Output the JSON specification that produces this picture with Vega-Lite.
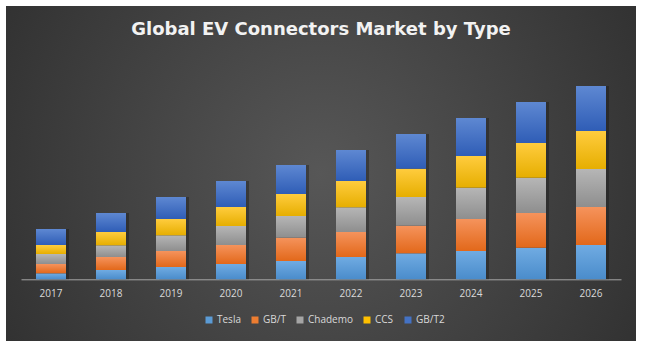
{
  "$schema": "https://vega.github.io/schema/vega-lite/v6.json",
  "width": 630,
  "height": 335,
  "autosize": {"type": "none"},
  "padding": {"left": 6, "top": 6, "right": 11, "bottom": 8},
  "background": "white",
  "title": {
    "text": "Global EV Connectors Market by Type",
    "font": "DejaVu Sans",
    "fontSize": 18,
    "fontWeight": "bold",
    "color": "#f2f2f2",
    "anchor": "middle",
    "baseline": "alphabetic",
    "offset": -47
  },
  "data": {
    "values": [
      {"year": "2017", "type": "Tesla", "value": 6},
      {"year": "2017", "type": "GB/T", "value": 9.3},
      {"year": "2017", "type": "Chademo", "value": 10},
      {"year": "2017", "type": "CCS", "value": 9},
      {"year": "2017", "type": "GB/T2", "value": 16},
      {"year": "2018", "type": "Tesla", "value": 9.3},
      {"year": "2018", "type": "GB/T", "value": 13},
      {"year": "2018", "type": "Chademo", "value": 11.7},
      {"year": "2018", "type": "CCS", "value": 13.3},
      {"year": "2018", "type": "GB/T2", "value": 19},
      {"year": "2019", "type": "Tesla", "value": 12.3},
      {"year": "2019", "type": "GB/T", "value": 16},
      {"year": "2019", "type": "Chademo", "value": 15.7},
      {"year": "2019", "type": "CCS", "value": 16.3},
      {"year": "2019", "type": "GB/T2", "value": 22},
      {"year": "2020", "type": "Tesla", "value": 15.3},
      {"year": "2020", "type": "GB/T", "value": 19},
      {"year": "2020", "type": "Chademo", "value": 19},
      {"year": "2020", "type": "CCS", "value": 19},
      {"year": "2020", "type": "GB/T2", "value": 26},
      {"year": "2021", "type": "Tesla", "value": 18.3},
      {"year": "2021", "type": "GB/T", "value": 23.3},
      {"year": "2021", "type": "Chademo", "value": 21.7},
      {"year": "2021", "type": "CCS", "value": 22},
      {"year": "2021", "type": "GB/T2", "value": 29},
      {"year": "2022", "type": "Tesla", "value": 22.3},
      {"year": "2022", "type": "GB/T", "value": 25},
      {"year": "2022", "type": "Chademo", "value": 24.7},
      {"year": "2022", "type": "CCS", "value": 26.3},
      {"year": "2022", "type": "GB/T2", "value": 31},
      {"year": "2023", "type": "Tesla", "value": 26},
      {"year": "2023", "type": "GB/T", "value": 27.6},
      {"year": "2023", "type": "Chademo", "value": 28.7},
      {"year": "2023", "type": "CCS", "value": 28.3},
      {"year": "2023", "type": "GB/T2", "value": 34.7},
      {"year": "2024", "type": "Tesla", "value": 28.3},
      {"year": "2024", "type": "GB/T", "value": 32},
      {"year": "2024", "type": "Chademo", "value": 31.3},
      {"year": "2024", "type": "CCS", "value": 31.7},
      {"year": "2024", "type": "GB/T2", "value": 38},
      {"year": "2025", "type": "Tesla", "value": 31.6},
      {"year": "2025", "type": "GB/T", "value": 34.7},
      {"year": "2025", "type": "Chademo", "value": 35.3},
      {"year": "2025", "type": "CCS", "value": 34.7},
      {"year": "2025", "type": "GB/T2", "value": 41},
      {"year": "2026", "type": "Tesla", "value": 34.3},
      {"year": "2026", "type": "GB/T", "value": 38},
      {"year": "2026", "type": "Chademo", "value": 38},
      {"year": "2026", "type": "CCS", "value": 38},
      {"year": "2026", "type": "GB/T2", "value": 45}
    ]
  },
  "transform": [
    {"stack": "value", "groupby": ["year"], "as": ["v0", "v1"]}
  ],
  "encoding": {
    "x": {
      "field": "year",
      "type": "ordinal",
      "scale": {"range": [15, 615], "paddingInner": 0.5, "paddingOuter": 0.25},
      "axis": {
        "orient": "bottom",
        "offset": -61.7,
        "title": null,
        "ticks": false,
        "grid": false,
        "domainColor": "#a6a6a6",
        "domainWidth": 1,
        "labelColor": "#d9d9d9",
        "labelFont": "Open Sans",
        "labelFontSize": 10,
        "labelPadding": 9,
        "labelAngle": 0
      }
    },
    "y": {
      "field": "v1",
      "type": "quantitative",
      "scale": {"domain": [-61.7, 273.3], "nice": false, "zero": false},
      "axis": null
    },
    "y2": {"field": "v0"}
  },
  "layer": [
    {
      "transform": [{"filter": "datum.type === 'GB/T2'"}],
      "mark": {"type": "bar", "color": "#111111", "opacity": 0.35, "xOffset": 3},
      "encoding": {"y2": {"datum": 0}}
    },
    {
      "transform": [{"filter": "datum.type === 'Tesla'"}],
      "mark": {"type": "bar", "fill": {"gradient": "linear", "x1": 0, "y1": 0, "x2": 0, "y2": 1, "stops": [{"offset": 0, "color": "#70abe2"}, {"offset": 1, "color": "#4a8ccb"}]}}
    },
    {
      "transform": [{"filter": "datum.type === 'GB/T'"}],
      "mark": {"type": "bar", "fill": {"gradient": "linear", "x1": 0, "y1": 0, "x2": 0, "y2": 1, "stops": [{"offset": 0, "color": "#f5935c"}, {"offset": 1, "color": "#e2681a"}]}}
    },
    {
      "transform": [{"filter": "datum.type === 'Chademo'"}],
      "mark": {"type": "bar", "fill": {"gradient": "linear", "x1": 0, "y1": 0, "x2": 0, "y2": 1, "stops": [{"offset": 0, "color": "#b6b6b6"}, {"offset": 1, "color": "#8e8e8e"}]}}
    },
    {
      "transform": [{"filter": "datum.type === 'CCS'"}],
      "mark": {"type": "bar", "fill": {"gradient": "linear", "x1": 0, "y1": 0, "x2": 0, "y2": 1, "stops": [{"offset": 0, "color": "#ffcc3e"}, {"offset": 1, "color": "#e6ae00"}]}}
    },
    {
      "transform": [{"filter": "datum.type === 'GB/T2'"}],
      "mark": {"type": "bar", "fill": {"gradient": "linear", "x1": 0, "y1": 0, "x2": 0, "y2": 1, "stops": [{"offset": 0, "color": "#5e88d2"}, {"offset": 1, "color": "#2f5db6"}]}}
    },
    {
      "transform": [{"filter": "false"}],
      "mark": {"type": "bar"},
      "encoding": {
        "color": {
          "field": "type",
          "type": "nominal",
          "scale": {
            "domain": ["Tesla", "GB/T", "Chademo", "CCS", "GB/T2"],
            "range": ["#5b9bd5", "#ed7d31", "#a5a5a5", "#ffc000", "#4472c4"]
          },
          "legend": {
            "orient": "none",
            "legendX": 198,
            "legendY": 309,
            "direction": "horizontal",
            "title": null,
            "symbolType": "square",
            "symbolSize": 49,
            "symbolStrokeWidth": 0,
            "symbolOpacity": 1,
            "labelColor": "#d9d9d9",
            "labelFont": "Open Sans",
            "labelFontSize": 10,
            "labelOffset": 3,
            "columnPadding": 9
          }
        }
      }
    }
  ],
  "config": {
    "view": {
      "stroke": null,
      "fill": {"expr": "{gradient: 'radial', x1: 0.5, y1: 0.5, r1: 0, x2: 0.5, y2: 0.5, r2: 0.72, stops: [{offset: 0, color: '#575757'}, {offset: 1, color: '#282828'}]}"}
    }
  }
}
